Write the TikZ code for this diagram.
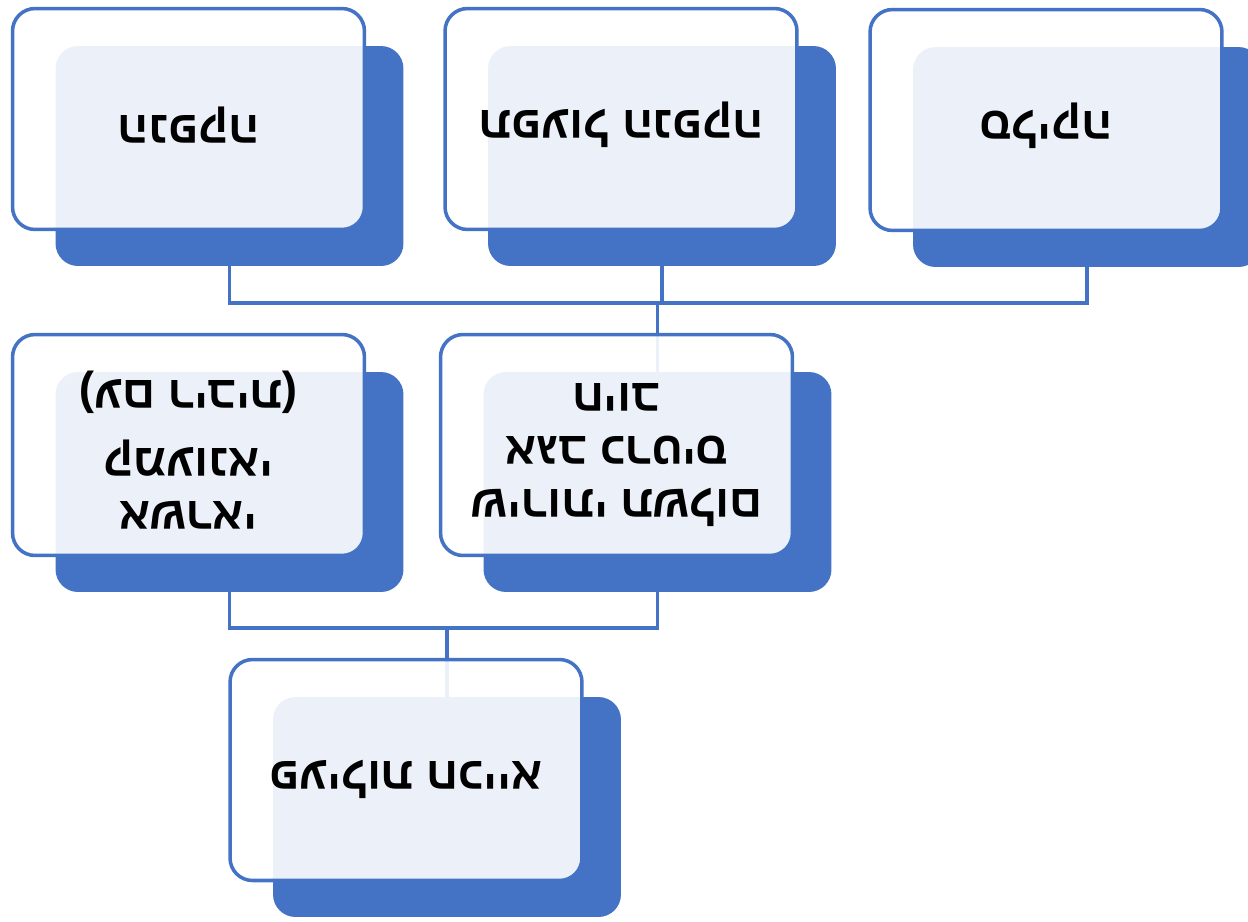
\documentclass[tikz,border=0pt]{standalone}
\usepackage{fontspec}
\newfontfamily\hebfont[Script=Hebrew]{Liberation Sans}
\TeXXeTstate=1
\usetikzlibrary{calc}
\definecolor{cardblue}{HTML}{4472C4}
\newcommand{\heb}[1]{\beginR #1\endR}
\tikzset{
  backbox/.style={fill=cardblue, rounded corners=0.45cm, minimum width=6.96cm, minimum height=4.4cm, inner sep=0pt, outer sep=0pt},
  frontbox/.style={draw=cardblue, line width=2pt, fill=white, fill opacity=0.9, text opacity=1, rounded corners=0.45cm, minimum width=7.04cm, minimum height=4.42cm, inner sep=0pt, outer sep=0pt, align=center, rotate=180, text depth=0.4cm, font=\hebfont\bfseries\fontsize{26}{30}\selectfont},
  link/.style={draw=cardblue, line width=2pt}
}

\begin{document}
\begin{tikzpicture}[x=0.02cm, y=-0.02cm]
  \useasboundingbox[fill=white] (0,0) rectangle (1248,921);
  %%%%% back cards %%%%%
  \node[backbox] (tlb) at (229.5, 156) {};
  \node[backbox] (tmb) at (662, 156) {};
  \node[backbox] (trb) at (1087, 157) {};
  \node[backbox] (mlb) at (229.5, 482) {};
  \node[backbox] (mrb) at (657.5, 482) {};
  \node[backbox] (bb) at (447, 807) {};

  %%%%% connectors %%%%%
  \coordinate (jtop) at (657.5, 303);
  \coordinate (jbot) at (447, 628);
  \draw[link] (tlb.south) |- (trb.south |- jtop) -- (trb.south);
  \draw[link] (tmb.south) -- (tmb.south |- jtop);
  \draw[link] (jtop) -- (mrb.north);
  \draw[link] (mlb.south) |- (mrb.south |- jbot) -- (mrb.south);
  \draw[link] (jbot) -- (bb.north);

  %%%%% front cards %%%%%
  \node[frontbox] (tl) at (188.5, 119) {\heb{הנפקה}};
  \node[frontbox] (tm) at (621, 119) {\heb{תפעול הנפקה}};
  \node[frontbox] (tr) at (1046, 120) {\heb{סליקה}};
  \node[frontbox] (ml) at (188.5, 445) {\heb{אשראי}\\ \heb{קמעונאי}\\[0.3cm] )\heb{עם ריבית}(};
  \node[frontbox] (mr) at (616.5, 445) {\heb{שירותי תשלום}\\ \heb{אגב כרטיס}\\ \heb{חיוב}};
  \node[frontbox] (b) at (406, 770) {\heb{פעילות חכייא}};
\end{tikzpicture}
\end{document}
